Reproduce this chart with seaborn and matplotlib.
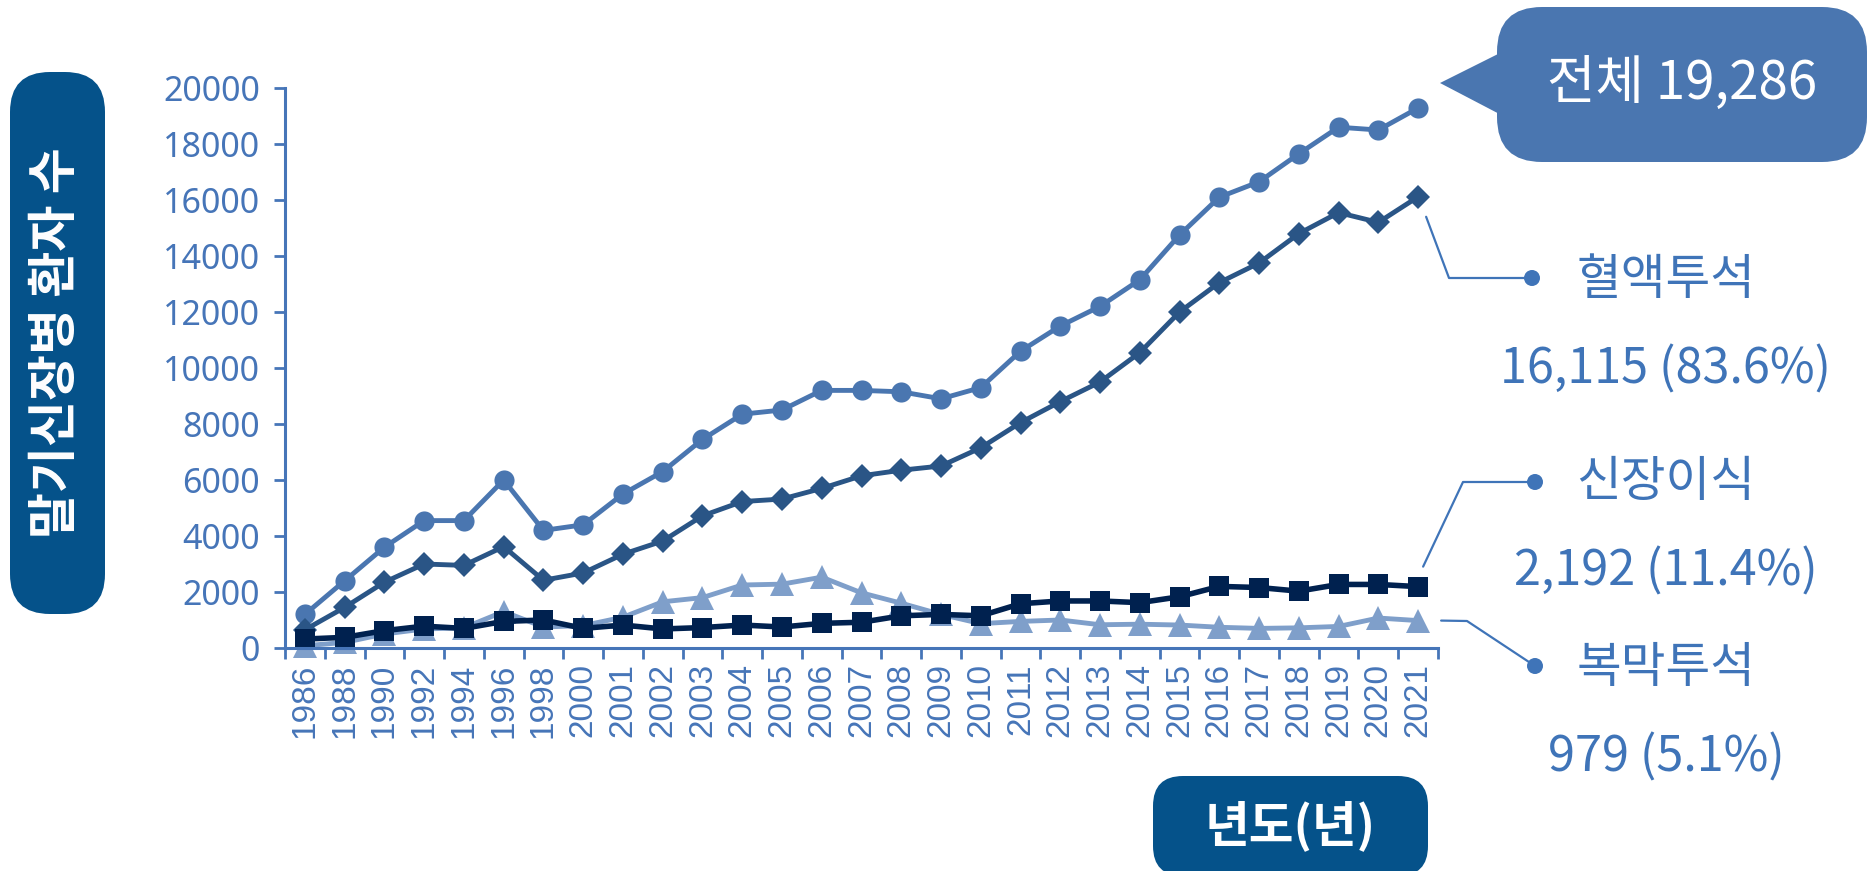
import numpy as np
import pandas as pd
import seaborn as sns
import matplotlib.pyplot as plt
from matplotlib.patches import FancyBboxPatch, Polygon, Circle


# Data
years = ['1986', '1988', '1990', '1992', '1994', '1996', '1998', '2000',
         '2001', '2002', '2003', '2004', '2005', '2006', '2007', '2008',
         '2009', '2010', '2011', '2012', '2013', '2014', '2015', '2016',
         '2017', '2018', '2019', '2020', '2021']
total = [1200, 2400, 3600, 4550, 4550, 6000, 4200, 4400, 5500, 6300, 7450, 8350, 8500, 9200,
         9200, 9150, 8900, 9300, 10600, 11500, 12200, 13150, 14750, 16100, 16650, 17650,
         18600, 18500, 19286]
hemo = [650, 1450, 2350, 3000, 2950, 3620, 2420, 2680, 3350, 3820, 4720, 5230, 5320, 5700,
        6150, 6350, 6500, 7150, 8050, 8800, 9500, 10550, 12000, 13050, 13750, 14800,
        15550, 15200, 16115]
transplant = [320, 380, 620, 780, 700, 950, 1000, 700, 820, 680, 730, 820, 750, 880, 920,
              1150, 1200, 1150, 1580, 1680, 1680, 1620, 1830, 2200, 2160, 2030, 2270,
              2270, 2192]
peritoneal = [80, 200, 500, 680, 720, 1300, 750, 800, 1100, 1650, 1800, 2250, 2280, 2530,
              1970, 1600, 1200, 870, 950, 1000, 830, 850, 820, 740, 700, 720, 770, 1070, 979]

df = pd.DataFrame({'pos': np.arange(len(years)), 'year': years, 'total': total,
                   'hemo': hemo, 'transplant': transplant, 'peritoneal': peritoneal})

AXIS_BLUE = '#4675B8'
TEXT_BLUE = '#3F74B8'
BOX_DARK = '#05528A'

sns.set_theme(style='white')
plt.rcParams['font.family'] = ['Noto Sans CJK KR', 'DejaVu Sans']

W, H = 1870, 871
fig = plt.figure(figsize=(W / 100, H / 100), dpi=100)
ax = fig.add_axes([285 / W, 1 - 648 / H, (1438 - 285) / W, (648 - 88) / H])

# series: column, marker, colour, marker size, line width
series = [
    ('total', 'o', '#4A76B0', 14.5, 3.5),
    ('hemo', 'D', '#2A5586', 12.5, 3.5),
    ('peritoneal', '^', '#7F9FCA', 17.5, 3.5),
    ('transplant', 's', '#00214F', 14.5, 4.0),
]
for col, mk, c, ms, lw in series:
    sns.lineplot(data=df, x='pos', y=col, marker=mk, markersize=ms, color=c,
                 linewidth=lw, markeredgewidth=0, clip_on=False, ax=ax, legend=False)

ax.set_xlim(-0.5, len(years) - 0.5)
ax.set_ylim(0, 20000)
ax.set_xlabel('')
ax.set_ylabel('')
for s in ['top', 'right']:
    ax.spines[s].set_visible(False)
for s in ['left', 'bottom']:
    ax.spines[s].set_color(AXIS_BLUE)
    ax.spines[s].set_linewidth(2.2)

ax.set_yticks(range(0, 20001, 2000))
ax.set_yticklabels([str(v) for v in range(0, 20001, 2000)], fontsize=24.5,
                   color=AXIS_BLUE, family='Noto Sans')
ax.tick_params(axis='y', direction='out', length=8, width=2, color=AXIS_BLUE, pad=10, left=True)

ax.set_xticks(df['pos'])
ax.set_xticklabels(years, rotation=90, fontsize=24, color=AXIS_BLUE, family='Liberation Sans')
ax.set_xticks(np.arange(-0.5, len(years), 1), minor=True)
ax.tick_params(axis='x', which='major', length=0, pad=11, bottom=True)
ax.tick_params(axis='x', which='minor', direction='out', length=8, width=2,
               color=AXIS_BLUE, bottom=True)
ax.grid(False)

# overlay in pixel coordinates for boxes and callouts
ov = fig.add_axes([0, 0, 1, 1], zorder=5)
ov.set_xlim(0, W)
ov.set_ylim(H, 0)
ov.axis('off')
ov.patch.set_alpha(0)


def px(i, v):
    x, y = ax.transData.transform((i, v))
    return x, H - y


# y label box
ov.add_patch(FancyBboxPatch((10, 72), 95, 542, boxstyle='round,pad=0,rounding_size=40',
                            fc=BOX_DARK, ec='none'))
ov.text(57, 343, '말기신장병 환자 수', rotation=90, ha='center', va='center',
        color='white', fontsize=36, fontweight='bold')

# x label box
ov.add_patch(FancyBboxPatch((1153, 776), 275, 100, boxstyle='round,pad=0,rounding_size=30',
                            fc=BOX_DARK, ec='none'))
ov.text(1290, 826, '년도(년)', ha='center', va='center', color='white',
        fontsize=35, fontweight='bold')

# callout for total
CALL = '#4A76B0'
ov.add_patch(Polygon([(1440, 83), (1530, 38), (1530, 130)], closed=True, fc=CALL, ec='none'))
ov.add_patch(FancyBboxPatch((1497, 7), 370, 155, boxstyle='round,pad=0,rounding_size=45',
                            fc=CALL, ec='none'))
ov.text(1682, 84, f'전체 {total[-1]:,}', ha='center', va='center', color='white', fontsize=38)

last = len(years) - 1


def label(pts, title, vals, tx, ty):
    xs, ys = zip(*pts)
    ov.plot(xs, ys, color=TEXT_BLUE, lw=1.6)
    ov.add_patch(Circle(pts[-1], 8, fc=TEXT_BLUE, ec='none'))
    ov.text(tx, ty, title, ha='center', va='center', color=TEXT_BLUE, fontsize=35)
    ov.text(tx, ty + 90, vals, ha='center', va='center', color=TEXT_BLUE, fontsize=35)


def share(v):
    return f'{v:,} ({v / total[-1] * 100:.1f}%)'


x0, y0 = px(last, hemo[-1])
label([(x0 + 8, y0 + 20), (1449, 278), (1532, 278)], '혈액투석', share(hemo[-1]), 1666, 280)

x0, y0 = px(last, transplant[-1])
label([(x0 + 5, y0 - 20), (1463, 482), (1535, 482)], '신장이식', share(transplant[-1]), 1666, 482)

x0, y0 = px(last, peritoneal[-1])
label([(x0 + 23, y0), (1467, 621), (1535, 666)], '복막투석', share(peritoneal[-1]), 1666, 668)

fig.savefig('out.png', dpi=100)
